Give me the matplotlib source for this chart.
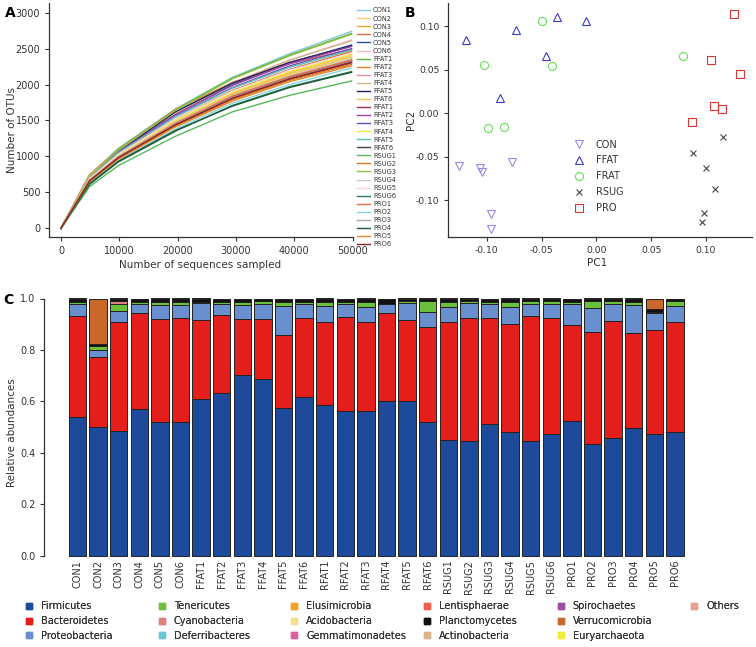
import matplotlib
matplotlib.use('Agg')
import matplotlib.pyplot as plt
from matplotlib.lines import Line2D
import numpy as np

plt.rcParams['font.family'] = ['DejaVu Sans']
plt.rcParams['axes.unicode_minus'] = False

W, H = 756, 647
def fx(px): return px / W
def fy(py): return 1 - py / H

# ---------------- Panel A data: rarefaction curves ----------------
seq_depth = [0, 4900, 9800, 19600, 29400, 39200, 49800]
rare_labels = ['CON1', 'CON2', 'CON3', 'CON4', 'CON5', 'CON6',
               'FFAT1', 'FFAT2', 'FFAT3', 'FFAT4', 'FFAT5', 'FFAT6',
               'RFAT1', 'RFAT2', 'RFAT3', 'RFAT4', 'RFAT5', 'RFAT6',
               'RSUG1', 'RSUG2', 'RSUG3', 'RSUG4', 'RSUG5', 'RSUG6',
               'PRO1', 'PRO2', 'PRO3', 'PRO4', 'PRO5', 'PRO6']
rare_colors = ['#86c8e0', '#f5d070', '#f0a830', '#dd6a3a', '#2a4f9a', '#f5b8c8',
               '#5ab636', '#e2802c', '#e8909c', '#d4b48c', '#1e2458', '#f0c850',
               '#a0305a', '#a040a8', '#6a4cc0', '#f2ee3c', '#5cc0b0', '#444444',
               '#58b858', '#e07424', '#92c040', '#c8c8c8', '#f8d4e0', '#2a7a58',
               '#f06a44', '#88d4e4', '#a8a8a8', '#1a5a34', '#e0882c', '#8c2424']
otus_con = [[0, 740, 1110, 1660, 2100, 2430, 2740],
            [0, 660, 990, 1470, 1860, 2150, 2400],
            [0, 700, 1020, 1490, 1880, 2170, 2420],
            [0, 720, 1040, 1520, 1920, 2210, 2460],
            [0, 700, 1060, 1590, 2000, 2300, 2550],
            [0, 720, 1080, 1600, 2030, 2340, 2620]]
otus_ffat = [[0, 730, 1100, 1650, 2090, 2410, 2710],
             [0, 750, 1090, 1650, 2030, 2290, 2490],
             [0, 680, 1000, 1460, 1830, 2110, 2350],
             [0, 740, 1080, 1600, 2020, 2340, 2610],
             [0, 690, 1060, 1620, 2020, 2310, 2540],
             [0, 690, 1010, 1480, 1860, 2140, 2380]]
otus_rfat = [[0, 660, 980, 1430, 1800, 2070, 2300],
             [0, 700, 1060, 1580, 1990, 2290, 2530],
             [0, 690, 1050, 1560, 1960, 2260, 2500],
             [0, 680, 1020, 1500, 1890, 2180, 2420],
             [0, 700, 1050, 1550, 1950, 2240, 2480],
             [0, 670, 990, 1450, 1830, 2100, 2330]]
otus_rsug = [[0, 580, 870, 1280, 1620, 1850, 2050],
             [0, 650, 970, 1420, 1790, 2060, 2280],
             [0, 720, 1090, 1640, 2080, 2400, 2700],
             [0, 670, 1000, 1470, 1850, 2120, 2360],
             [0, 690, 1030, 1520, 1910, 2200, 2440],
             [0, 610, 920, 1350, 1710, 1970, 2180]]
otus_pro = [[0, 670, 990, 1460, 1840, 2110, 2340],
            [0, 630, 940, 1380, 1740, 2000, 2230],
            [0, 660, 980, 1450, 1820, 2090, 2320],
            [0, 620, 930, 1360, 1700, 1960, 2170],
            [0, 650, 960, 1410, 1770, 2040, 2260],
            [0, 660, 980, 1440, 1810, 2080, 2310]]

# ---------------- Panel B data: PCoA ----------------
pc1_con = [-0.1249, -0.1061, -0.1043, -0.0766, -0.0964, -0.0960]
pc2_con = [-0.0602, -0.0625, -0.0670, -0.0563, -0.1161, -0.1333]
pc1_ffat = [-0.1191, -0.0729, -0.0356, -0.0091, -0.0456, -0.0875]
pc2_ffat = [0.0843, 0.0958, 0.1103, 0.1065, 0.0655, 0.0180]
pc1_frat = [-0.0495, -0.1021, -0.0404, -0.0988, -0.0839, 0.0793]
pc2_frat = [0.1061, 0.0552, 0.0544, -0.0172, -0.0157, 0.0663]
pc1_rsug = [0.1158, 0.0878, 0.1000, 0.1085, 0.0982, 0.0964]
pc2_rsug = [-0.0276, -0.0460, -0.0632, -0.0874, -0.1142, -0.1245]
pc1_pro = [0.1255, 0.1043, 0.1310, 0.1070, 0.1143, 0.0872]
pc2_pro = [0.1146, 0.0613, 0.0452, 0.0084, 0.0050, -0.0100]

# ---------------- Panel C data: relative abundances ----------------
samples = rare_labels
firmicutes = [0.540, 0.499, 0.486, 0.570, 0.518, 0.518, 0.608, 0.631, 0.701, 0.687,
              0.573, 0.616, 0.586, 0.561, 0.562, 0.601, 0.602, 0.518, 0.448, 0.444,
              0.510, 0.479, 0.447, 0.474, 0.525, 0.435, 0.457, 0.495, 0.472, 0.479]
bacteroidetes = [0.392, 0.272, 0.421, 0.372, 0.401, 0.407, 0.308, 0.304, 0.218, 0.232,
                 0.284, 0.307, 0.324, 0.368, 0.348, 0.344, 0.314, 0.372, 0.462, 0.479,
                 0.415, 0.423, 0.486, 0.451, 0.372, 0.436, 0.455, 0.372, 0.404, 0.431]
proteobacteria = [0.045, 0.029, 0.046, 0.035, 0.056, 0.050, 0.068, 0.042, 0.056, 0.059,
                  0.115, 0.055, 0.062, 0.048, 0.058, 0.033, 0.068, 0.059, 0.056, 0.058,
                  0.052, 0.066, 0.044, 0.052, 0.080, 0.093, 0.065, 0.107, 0.066, 0.061]
tenericutes = [0.008, 0.014, 0.024, 0.008, 0.010, 0.010, 0.004, 0.011, 0.010, 0.013,
               0.013, 0.010, 0.016, 0.011, 0.017, 0.002, 0.006, 0.043, 0.019, 0.009,
               0.011, 0.020, 0.012, 0.012, 0.008, 0.026, 0.012, 0.014, 0.006, 0.021]
cyanobacteria = [0, 0, 0.013, 0, 0, 0, 0, 0, 0, 0, 0, 0, 0, 0, 0,
                 0, 0, 0, 0, 0, 0, 0, 0, 0, 0, 0, 0, 0, 0, 0]
planctomycetes = [0.015, 0.010, 0.010, 0.015, 0.015, 0.015, 0.012, 0.012, 0.015, 0.009,
                  0.015, 0.012, 0.012, 0.012, 0.015, 0.020, 0.010, 0.008, 0.015, 0.010,
                  0.012, 0.012, 0.011, 0.011, 0.015, 0.010, 0.011, 0.012, 0.010, 0.008]
verrucomicrobia = [0, 0.176, 0, 0, 0, 0, 0, 0, 0, 0, 0, 0, 0, 0, 0,
                   0, 0, 0, 0, 0, 0, 0, 0, 0, 0, 0, 0, 0, 0.042, 0]
zeros = [0] * 30

phyla = ['Firmicutes', 'Bacteroidetes', 'Proteobacteria', 'Tenericutes', 'Cyanobacteria',
         'Deferribacteres', 'Elusimicrobia', 'Acidobacteria', 'Gemmatimonadetes',
         'Lentisphaerae', 'Planctomycetes', 'Actinobacteria', 'Spirochaetes',
         'Verrucomicrobia', 'Euryarchaeota', 'Others']
phyla_colors = ['#1d4a9b', '#e41f1b', '#6a8fcf', '#6cbf3a', '#e07f80', '#6cc4d6',
                '#f2a024', '#f0e08e', '#e0609c', '#f06050', '#111111', '#dcb48a',
                '#a050a0', '#c9682a', '#f0ee3c', '#e8a08e']
phyla_values = [firmicutes, bacteroidetes, proteobacteria, tenericutes, cyanobacteria,
                zeros, zeros, zeros, zeros, zeros, planctomycetes, zeros, zeros,
                verrucomicrobia, zeros, zeros]

fig = plt.figure(figsize=(W / 100, H / 100), dpi=100)
tick_color = '#333333'

def style_axes(ax, labelsize=7):
    for s in ['top', 'right']:
        ax.spines[s].set_visible(False)
    for s in ['left', 'bottom']:
        ax.spines[s].set_color('#333333')
        ax.spines[s].set_linewidth(0.9)
    ax.tick_params(direction='out', length=3, width=0.8, colors='#333333',
                   labelsize=labelsize, labelcolor=tick_color)

# ---------------- Panel A ----------------
axA = fig.add_axes([fx(49.3), fy(237.3), fx(353.3) - fx(49.3), fy(3.3) - fy(237.3)])
groups = otus_con + otus_ffat + otus_rfat + otus_rsug + otus_pro
for lab, col, vals in zip(rare_labels, rare_colors, groups):
    axA.plot(seq_depth, vals, color=col, lw=1.0, label=lab)
axA.set_xlim(-2000, 50100)
axA.set_ylim(-125, 3130)
axA.set_xticks([0, 10000, 20000, 30000, 40000, 50000])
axA.set_yticks([0, 500, 1000, 1500, 2000, 2500, 3000])
style_axes(axA)
fig.text(fx(200), fy(265), 'Number of sequences sampled', ha='center', va='center',
         fontsize=7.5, color='#333333')
fig.text(fx(11.7), fy(130), 'Number of OTUs', ha='center', va='center', rotation=90,
         fontsize=7.5, color='#333333')
fig.text(fx(10), fy(13), 'A', ha='center', va='center', fontsize=10, fontweight='bold')
legA = fig.legend(*axA.get_legend_handles_labels(), loc='upper left',
                  bbox_to_anchor=(fx(357), fy(7.5)), frameon=False, fontsize=4.8,
                  borderpad=0, borderaxespad=0, labelspacing=0.31, handlelength=2.0,
                  handletextpad=0.4)
for t in legA.get_texts():
    t.set_color('#333333')

# ---------------- Panel B ----------------
axB = fig.add_axes([fx(448.3), fy(237.3), fx(751.7) - fx(448.3), fy(3.3) - fy(237.3)])
ms = 5.8
axB.plot(pc1_con, pc2_con, 'v', ms=ms, mfc='none', mec='#9a88ee', mew=0.8, ls='none', label='CON')
axB.plot(pc1_ffat, pc2_ffat, '^', ms=ms, mfc='none', mec='#3c3ccc', mew=0.8, ls='none', label='FFAT')
axB.plot(pc1_frat, pc2_frat, 'o', ms=ms, mfc='none', mec='#66dd55', mew=0.8, ls='none', label='FRAT')
axB.plot(pc1_rsug, pc2_rsug, 'x', ms=5, mec='#444444', mew=0.8, ls='none', label='RSUG')
axB.plot(pc1_pro, pc2_pro, 's', ms=ms, mfc='none', mec='#dd3333', mew=0.8, ls='none', label='PRO')
axB.set_xlim(-0.135, 0.1417)
axB.set_ylim(-0.1425, 0.1264)
axB.set_xticks([-0.10, -0.05, 0.00, 0.05, 0.10])
axB.set_yticks([-0.10, -0.05, 0.00, 0.05, 0.10])
axB.xaxis.set_major_formatter(matplotlib.ticker.FormatStrFormatter('%.2f'))
axB.yaxis.set_major_formatter(matplotlib.ticker.FormatStrFormatter('%.2f'))
style_axes(axB, labelsize=6.6)
fig.text(fx(597), fy(263), 'PC1', ha='center', va='center', fontsize=7.5, color='#333333')
fig.text(fx(411), fy(120), 'PC2', ha='center', va='center', rotation=90, fontsize=7.5,
         color='#333333')
fig.text(fx(410), fy(13), 'B', ha='center', va='center', fontsize=10, fontweight='bold')
legB = axB.legend(loc='upper left', bbox_to_anchor=(fx(571.7), fy(139.6)),
                  bbox_transform=fig.transFigure, frameon=False, fontsize=7,
                  borderpad=0, borderaxespad=0, labelspacing=0.6, handlelength=1.5,
                  handletextpad=0.97)
for t in legB.get_texts():
    t.set_color('#333333')

# ---------------- Panel C ----------------
x = np.arange(len(samples))
pitch = 20.6
axC = fig.add_axes([fx(44.3), fy(555.5), fx(44.3 + 31.2 * pitch) - fx(44.3), fy(298.5) - fy(555.5)])
bottom = np.zeros(len(samples))
for name, col, vals in zip(phyla, phyla_colors, phyla_values):
    vals = np.array(vals, dtype=float)
    if vals.sum() > 0:
        axC.bar(x, vals, bottom=bottom, width=0.84, color=col, edgecolor='#222222',
                linewidth=0.7, clip_on=False, zorder=2)
    bottom = bottom + vals
axC.set_xlim(-1.61, 29.59)
axC.set_ylim(0, 1.0)
axC.set_yticks([0.0, 0.2, 0.4, 0.6, 0.8, 1.0])
axC.set_xticks(x)
axC.set_xticklabels(samples, rotation=90, fontsize=7, color='#333333')
for s in ['top', 'right', 'bottom']:
    axC.spines[s].set_visible(False)
axC.spines['left'].set_color('#333333')
axC.spines['left'].set_linewidth(0.9)
axC.tick_params(axis='y', direction='out', length=3, width=0.8, colors='#333333', labelsize=7)
axC.tick_params(axis='x', length=0, pad=3)
fig.text(fx(11.7), fy(433), 'Relative abundances', ha='center', va='center', rotation=90,
         fontsize=7.5, color='#333333')
fig.text(fx(8), fy(300), 'C', ha='center', va='center', fontsize=10, fontweight='bold')

# Legend for panel C: 6 columns on a fixed grid
col_x = [29, 161.5, 294, 426.7, 560.7, 694]
handles = [Line2D([], [], marker='s', ls='none', ms=4.2, mfc=c, mec=c) for c in phyla_colors]
for ci, cx in enumerate(col_x):
    hs = handles[ci * 3:ci * 3 + 3]
    ls = phyla[ci * 3:ci * 3 + 3]
    leg = fig.legend(hs, ls, loc='upper left', bbox_to_anchor=(fx(cx - 4.85), fy(601.4)),
                     frameon=False, fontsize=7, borderpad=0, borderaxespad=0,
                     labelspacing=0.48, handlelength=1.0, handletextpad=0.74)
    for t in leg.get_texts():
        t.set_color('#333333')
    fig.add_artist(leg)

fig.savefig('out.png', dpi=100)
